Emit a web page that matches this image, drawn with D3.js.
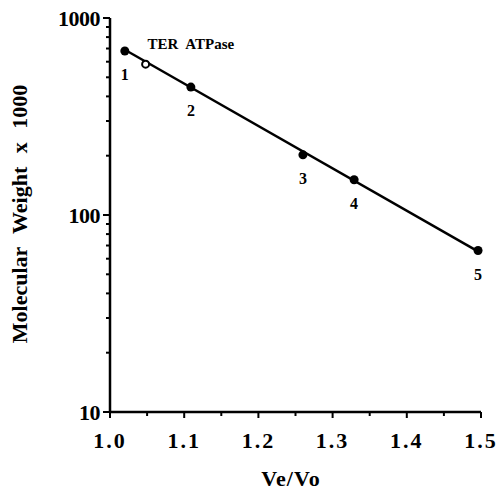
<!DOCTYPE html>
<html lang="en">
<head>
<meta charset="UTF-8">
<title>Ve/Vo vs Molecular Weight</title>
<script src="https://cdn.jsdelivr.net/npm/d3@7"></script>
<style>
  body { margin: 0; background: #fff; }
  svg text { font-family: 'Liberation Serif', 'Times New Roman', Times, serif; font-weight: 700; fill: #000; }
</style>
</head>
<body>
<svg id="chart" width="501" height="490"></svg>
<script>
// standards (filled) and TER ATPase (open)
var stdLabels = ["1", "2", "3", "4", "5"];
var stdVeVo = [1.02, 1.109, 1.26, 1.329, 1.496];
var stdMW = [680, 446, 202, 151, 66];

var terVeVo = [1.048];
var terMW = [583];

// fitted line end points
var fitVeVo = [1.02, 1.5];
var fitMW = [690, 64];

var xTicks = [1.0, 1.1, 1.2, 1.3, 1.4, 1.5];
var yTicks = [10, 100, 1000];

var svg = d3.select("#chart");
var x0 = 110, x1 = 481, y0 = 412, y1 = 18;

var x = d3.scaleLinear().domain([1.0, 1.5]).range([x0, x1]);
var y = d3.scaleLog().domain([10, 1000]).range([y0, y1]);

// x axis
var minorX = d3.range(1.05, 1.5, 0.1);
var gx = svg.append("g").attr("transform", "translate(0," + y0 + ")");
gx.append("line").attr("x1", x0).attr("x2", x1).attr("stroke", "#000").attr("stroke-width", 2.5);
gx.selectAll(".maj").data(xTicks).enter().append("line")
    .attr("x1", d => x(d)).attr("x2", d => x(d)).attr("y1", 0).attr("y2", 6)
    .attr("stroke", "#000").attr("stroke-width", 2);
gx.selectAll(".min").data(minorX).enter().append("line")
    .attr("x1", d => x(d)).attr("x2", d => x(d)).attr("y1", 0).attr("y2", 4)
    .attr("stroke", "#000").attr("stroke-width", 2);
gx.selectAll("text").data(xTicks).enter().append("text")
    .attr("x", d => x(d)).attr("y", 36)
    .attr("text-anchor", "middle").attr("font-size", 22).attr("letter-spacing", 2)
    .text(d => d.toFixed(1));

// y axis
var minorY = [];
[10, 100].forEach(function(b) { for (var i = 2; i <= 9; i++) minorY.push(b * i); });
var gy = svg.append("g").attr("transform", "translate(" + x0 + ",0)");
gy.append("line").attr("y1", y0).attr("y2", y1).attr("stroke", "#000").attr("stroke-width", 2.5);
gy.selectAll(".maj").data(yTicks).enter().append("line")
    .attr("y1", d => y(d)).attr("y2", d => y(d)).attr("x1", 0).attr("x2", -7)
    .attr("stroke", "#000").attr("stroke-width", 2);
gy.selectAll(".min").data(minorY).enter().append("line")
    .attr("y1", d => y(d)).attr("y2", d => y(d)).attr("x1", 0).attr("x2", -4)
    .attr("stroke", "#000").attr("stroke-width", 2);
gy.selectAll("text").data(yTicks).enter().append("text")
    .attr("x", -10).attr("y", d => y(d) + 8)
    .attr("text-anchor", "end").attr("font-size", 22).attr("letter-spacing", -0.5)
    .text(d => d);

// axis titles
svg.append("text").attr("x", 291).attr("y", 486)
    .attr("text-anchor", "middle").attr("font-size", 22).attr("letter-spacing", 1)
    .text("Ve/Vo");
svg.append("text")
    .attr("transform", "translate(27,214) rotate(-90)")
    .attr("text-anchor", "middle").attr("font-size", 22).attr("word-spacing", 8)
    .text("Molecular Weight x 1000");

// fit line
var line = d3.line().x(d => x(d[0])).y(d => y(d[1]));
svg.append("path").datum(d3.zip(fitVeVo, fitMW)).attr("d", line)
    .attr("fill", "none").attr("stroke", "#000").attr("stroke-width", 2.5);

// standards
var std = d3.zip(stdVeVo, stdMW, stdLabels);
svg.selectAll(".std").data(std).enter().append("circle")
    .attr("cx", d => x(d[0])).attr("cy", d => y(d[1])).attr("r", 4.5).attr("fill", "#000");
svg.selectAll(".lab").data(std).enter().append("text")
    .attr("x", d => x(d[0])).attr("y", d => y(d[1]) + 29)
    .attr("text-anchor", "middle").attr("font-size", 16)
    .text(d => d[2]);

// TER ATPase
svg.selectAll(".ter").data(d3.zip(terVeVo, terMW)).enter().append("circle")
    .attr("cx", d => x(d[0])).attr("cy", d => y(d[1])).attr("r", 3.5)
    .attr("fill", "#fff").attr("stroke", "#000").attr("stroke-width", 2);
svg.append("text").attr("x", x(terVeVo[0]) + 2).attr("y", y(terMW[0]) - 15)
    .attr("font-size", 15).attr("word-spacing", 4)
    .text("TER ATPase");
</script>
</body>
</html>
